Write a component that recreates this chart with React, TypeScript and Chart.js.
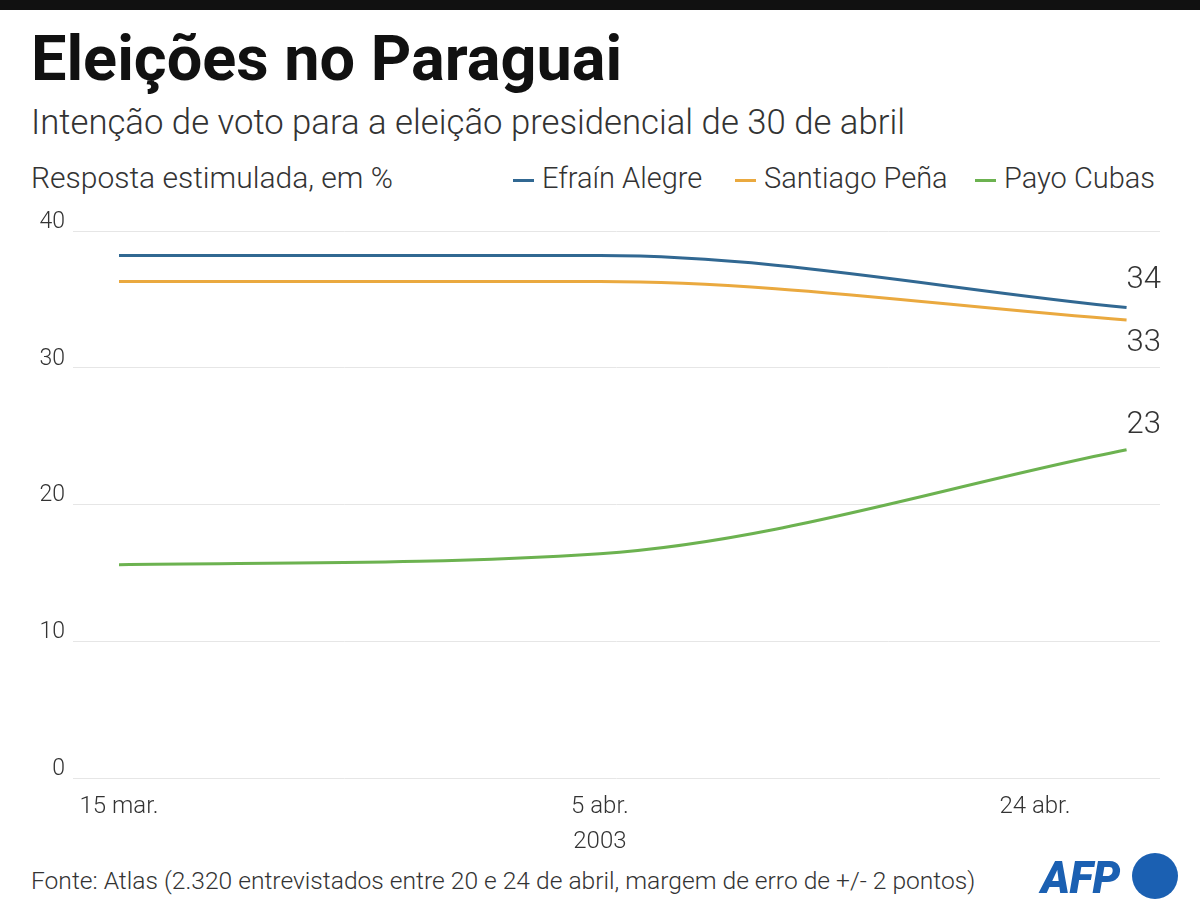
import React, { useEffect, useRef } from "react";
import { Chart, registerables } from "chart.js";

Chart.register(...registerables);

// Days counted from 1 March 2003 (15 = 15 mar., 36 = 5 abr., 55 = 24 abr.)
const pollDays = [15, 36, 59];
const tickDays = [15, 36, 55];
const tickLabels: (string | string[])[] = ["15 mar.", ["5 abr.", "2003"], "24 abr."];

const seriesNames = ["Efraín Alegre", "Santiago Peña", "Payo Cubas"];
const efrainAlegre = [38.2, 38.2, 34.4];
const santiagoPena = [36.3, 36.3, 33.5];
const payoCubas = [15.6, 16.4, 24.0];
const endLabels = ["34", "33", "23"];
const yTicks = [0, 10, 20, 30, 40];

const seriesValues = [efrainAlegre, santiagoPena, payoCubas];
const seriesColors = ["#316892", "#eaa93f", "#6cb250"];
const endLabelOffsets = [-27, 23, -25];

const FONT = "Roboto, 'Noto Sans', sans-serif";

export default function App() {
  const canvasRef = useRef<HTMLCanvasElement | null>(null);

  useEffect(() => {
    const canvas = canvasRef.current;
    if (!canvas) return;
    const endLabelPlugin = {
      id: "endLabels",
      afterDatasetsDraw(chart: any) {
        const ctx = chart.ctx;
        ctx.save();
        ctx.font = `300 31px ${FONT}`;
        ctx.fillStyle = "#333";
        ctx.textAlign = "left";
        ctx.textBaseline = "middle";
        chart.data.datasets.forEach((_: any, i: number) => {
          const meta = chart.getDatasetMeta(i);
          const pt = meta.data[meta.data.length - 1];
          ctx.fillText(endLabels[i], pt.x, pt.y + endLabelOffsets[i]);
        });
        ctx.restore();
      },
    };
    const chart = new Chart(canvas, {
      type: "line",
      data: {
        datasets: seriesNames.map((name, i) => ({
          label: name,
          data: pollDays.map((d, j) => ({ x: d, y: seriesValues[i][j] })),
          borderColor: seriesColors[i],
          backgroundColor: seriesColors[i],
          borderWidth: 3,
          pointRadius: 0,
          cubicInterpolationMode: "monotone" as const,
          fill: false,
        })),
      },
      options: {
        animation: false,
        responsive: false,
        layout: { padding: { top: 31, right: 40, left: 0, bottom: 0 } },
        plugins: { legend: { display: false }, tooltip: { enabled: false } },
        scales: {
          x: {
            type: "linear",
            min: 12.99,
            max: 60.46,
            grid: { display: false },
            border: { display: false },
            afterBuildTicks: (s: any) => {
              s.ticks = tickDays.map((v) => ({ value: v }));
            },
            afterFit: (s: any) => {
              s.height = 82;
            },
            ticks: {
              autoSkip: false,
              maxRotation: 0,
              padding: 4,
              color: "#333",
              font: { family: FONT, size: 24, weight: 300, lineHeight: 1.45 },
              callback: (v: any) => {
                const idx = tickDays.indexOf(Number(v));
                return idx >= 0 ? tickLabels[idx] : "";
              },
            },
          },
          y: {
            min: 0,
            max: 40,
            afterBuildTicks: (s: any) => {
              s.ticks = yTicks.map((v) => ({ value: v }));
            },
            afterFit: (s: any) => {
              s.width = 73;
            },
            grid: { color: "#e6e6e6", lineWidth: 1, drawTicks: false },
            border: { display: false },
            ticks: {
              padding: 8,
              labelOffset: -9,
              color: "#333",
              font: { family: FONT, size: 23, weight: 300 },
            },
          },
        },
      },
      plugins: [endLabelPlugin],
    });
    return () => chart.destroy();
  }, []);

  const legendLeft = [513, 735, 975];

  return (
    <div
      style={{
        position: "absolute",
        left: 0,
        top: 0,
        width: 1200,
        height: 911,
        background: "#fff",
        fontFamily: FONT,
        color: "#222",
        overflow: "hidden",
      }}
    >
      <div style={{ position: "absolute", left: 0, top: 0, width: 1200, height: 10, background: "#111" }} />
      <div
        style={{
          position: "absolute",
          left: 31,
          top: 27,
          fontSize: 63,
          lineHeight: 1,
          fontWeight: 700,
          color: "#111",
          whiteSpace: "nowrap",
        }}
      >
        Eleições no Paraguai
      </div>
      <div
        style={{
          position: "absolute",
          left: 31,
          top: 105,
          fontSize: 34.7,
          lineHeight: 1,
          fontWeight: 300,
          color: "#333",
          whiteSpace: "nowrap",
        }}
      >
        Intenção de voto para a eleição presidencial de 30 de abril
      </div>
      <div
        style={{
          position: "absolute",
          left: 31,
          top: 163,
          fontSize: 30,
          lineHeight: 1,
          fontWeight: 300,
          color: "#333",
          whiteSpace: "nowrap",
        }}
      >
        Resposta estimulada, em %
      </div>
      {seriesNames.map((name, i) => (
        <div
          key={name}
          style={{
            position: "absolute",
            left: legendLeft[i],
            top: 164,
            fontSize: 29,
            lineHeight: 1,
            fontWeight: 300,
            color: "#333",
            whiteSpace: "nowrap",
            display: "flex",
            alignItems: "center",
          }}
        >
          <span
            style={{
              display: "inline-block",
              width: 21,
              height: 3,
              background: seriesColors[i],
              marginRight: 8,
              marginTop: 4,
            }}
          />
          {name}
        </div>
      ))}
      <canvas
        ref={canvasRef}
        width={1200}
        height={660}
        style={{ position: "absolute", left: 0, top: 200, width: 1200, height: 660 }}
      />
      <div
        style={{
          position: "absolute",
          left: 31,
          top: 869,
          fontSize: 24.6,
          lineHeight: 1,
          fontWeight: 300,
          color: "#333",
          whiteSpace: "nowrap",
        }}
      >
        Fonte: Atlas (2.320 entrevistados entre 20 e 24 de abril, margem de erro de +/- 2 pontos)
      </div>
      <div
        style={{
          position: "absolute",
          left: 1041,
          top: 856,
          fontSize: 44,
          lineHeight: 1,
          fontWeight: 900,
          fontStyle: "italic",
          color: "#1b60b2",
          letterSpacing: -0.5,
        }}
      >
        AFP
      </div>
      <div
        style={{
          position: "absolute",
          left: 1132,
          top: 853,
          width: 46,
          height: 46,
          borderRadius: "50%",
          background: "#1b60b2",
        }}
      />
    </div>
  );
}
